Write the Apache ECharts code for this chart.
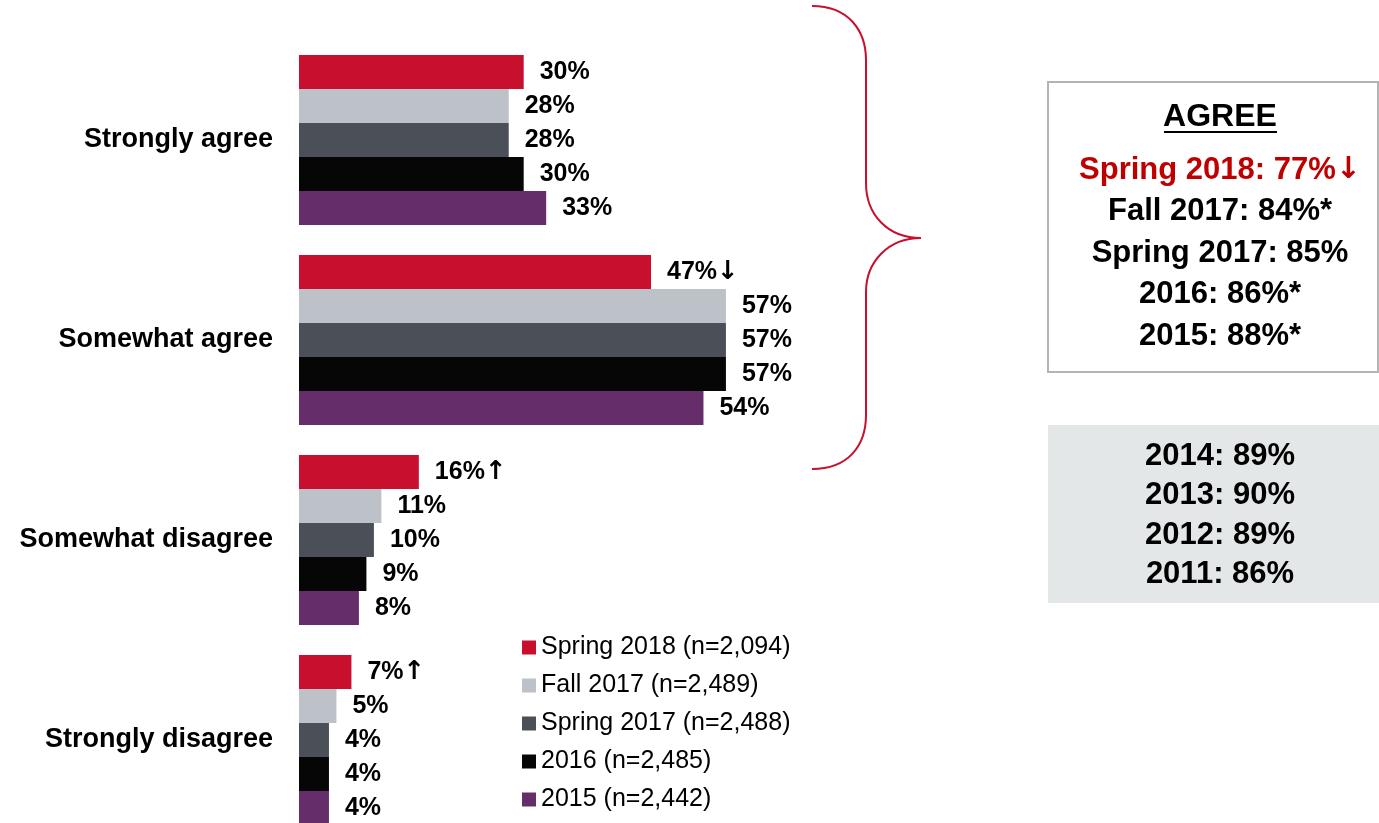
<!DOCTYPE html>
<html>
<head>
<meta charset="utf-8">
<script src="https://cdn.jsdelivr.net/npm/echarts@6/dist/echarts.min.js"></script>
<style>
  html, body { margin: 0; padding: 0; background: #fff; }
  #chart { width: 1379px; height: 823px; }
</style>
</head>
<body>
<div id="chart"></div>
<script>
// categories and series
var categories = ['Strongly agree', 'Somewhat agree', 'Somewhat disagree', 'Strongly disagree']
var seriesNames = ['Spring 2018 (n=2,094)', 'Fall 2017 (n=2,489)', 'Spring 2017 (n=2,488)', '2016 (n=2,485)', '2015 (n=2,442)']
var spring2018 = [30, 47, 16, 7]
var fall2017 = [28, 57, 11, 5]
var spring2017 = [28, 57, 10, 4]
var year2016 = [30, 57, 9, 4]
var year2015 = [33, 54, 8, 4]
// significance arrows on the Spring 2018 bars
var spring2018Marks = ['', '↓', '↑', '↑']
// summary boxes
var agreeTitle = 'AGREE'
var agreeLines = ['Spring 2018: 77%', 'Fall 2017: 84%*', 'Spring 2017: 85%', '2016: 86%*', '2015: 88%*']
var agreeMarks = ['↓', '', '', '', '']
var olderLines = ['2014: 89%', '2013: 90%', '2012: 89%', '2011: 86%']

var colors = ['#c8102e', '#bcc2c8', '#4b4f57', '#060606', '#662d6b']
var values = [spring2018, fall2017, spring2017, year2016, year2015]
var FONT = 'Liberation Sans, Arial, sans-serif'

var chart = echarts.init(document.getElementById('chart'))

var series = []
for (var i = 0; i < values.length; i++) {
  var marks = i === 0 ? spring2018Marks : null
  series.push({
    name: seriesNames[i],
    type: 'bar',
    data: values[i],
    barWidth: 34,
    barGap: '0%',
    itemStyle: { color: colors[i] },
    label: {
      show: true,
      position: 'right',
      distance: 16,
      fontFamily: FONT,
      fontWeight: 'bold',
      fontSize: 25,
      color: '#000',
      rich: {
        arr: { fontFamily: 'DejaVu Sans', fontSize: 26, fontWeight: 'bold', color: '#000' }
      },
      formatter: (function (m) {
        return function (p) {
          var a = m ? m[p.dataIndex] : ''
          return p.value + '%' + (a ? '{arr|' + a + '}' : '')
        }
      })(marks)
    }
  })
}

var braceStyle = { fill: null, stroke: '#c8102e', lineWidth: 2 }
var graphics = [
  // brace over the agree categories
  { type: 'bezierCurve', shape: { x1: 812, y1: 6, cpx1: 848, cpy1: 6, cpx2: 866, cpy2: 30, x2: 866, y2: 60 }, style: braceStyle },
  { type: 'line', shape: { x1: 866, y1: 60, x2: 866, y2: 183 }, style: braceStyle },
  { type: 'bezierCurve', shape: { x1: 866, y1: 183, cpx1: 866, cpy1: 215, cpx2: 888, cpy2: 238, x2: 921, y2: 238 }, style: braceStyle },
  { type: 'bezierCurve', shape: { x1: 921, y1: 238, cpx1: 888, cpy1: 238, cpx2: 866, cpy2: 262, x2: 866, y2: 292 }, style: braceStyle },
  { type: 'line', shape: { x1: 866, y1: 292, x2: 866, y2: 415 }, style: braceStyle },
  { type: 'bezierCurve', shape: { x1: 866, y1: 415, cpx1: 866, cpy1: 446, cpx2: 848, cpy2: 469, x2: 812, y2: 469 }, style: braceStyle },
  {
    type: 'rect',
    shape: { x: 1048, y: 82, width: 330, height: 290 },
    style: { fill: '#fff', stroke: '#b4b4b4', lineWidth: 2 }
  },
  {
    type: 'rect',
    shape: { x: 1048, y: 425, width: 335, height: 178 },
    style: { fill: '#e4e7e8' }
  },
  {
    type: 'text',
    x: 1220, y: 117,
    style: {
      text: agreeTitle, fill: '#000', align: 'center', verticalAlign: 'middle',
      font: 'bold 32px "Liberation Sans", Arial, sans-serif'
    }
  },
  {
    type: 'line',
    shape: { x1: 1164, y1: 132, x2: 1277, y2: 132 },
    style: { stroke: '#000', lineWidth: 2 }
  }
]
agreeLines.forEach(function (t, k) {
  var col = k === 0 ? '#c00000' : '#000'
  graphics.push({
    type: 'text',
    x: 1220, y: 170 + k * 41.5,
    style: {
      text: t + (agreeMarks[k] ? '{arr|' + agreeMarks[k] + '}' : ''),
      fill: col, align: 'center', verticalAlign: 'middle',
      font: 'bold 31px "Liberation Sans", Arial, sans-serif',
      rich: {
        arr: { fontFamily: 'DejaVu Sans', fontSize: 30, fontWeight: 'bold', fill: col }
      }
    }
  })
})
olderLines.forEach(function (t, k) {
  graphics.push({
    type: 'text',
    x: 1220, y: 456 + k * 39.5,
    style: {
      text: t, fill: '#000', align: 'center', verticalAlign: 'middle',
      font: 'bold 31px "Liberation Sans", Arial, sans-serif'
    }
  })
})

var option = {
  animation: false,
  textStyle: { fontFamily: FONT },
  grid: {
    left: 299,
    top: 40,
    width: 749,
    height: 800,
    containLabel: false,
    outerBoundsMode: 'none'
  },
  legend: {
    orient: 'vertical',
    left: 522,
    top: 635,
    padding: 0,
    icon: 'rect',
    itemWidth: 14,
    itemHeight: 14,
    itemGap: 13,
    selectedMode: false,
    textStyle: { fontSize: 25, color: '#000', lineHeight: 24, fontFamily: FONT },
    data: seriesNames
  },
  xAxis: {
    type: 'value',
    min: 0,
    max: 100,
    axisLine: { show: false },
    axisTick: { show: false },
    axisLabel: { show: false },
    splitLine: { show: false }
  },
  yAxis: {
    type: 'category',
    inverse: true,
    data: categories,
    axisLine: { show: false },
    axisTick: { show: false },
    axisLabel: {
      margin: 26,
      fontSize: 27,
      fontWeight: 'bold',
      color: '#000',
      fontFamily: FONT
    }
  },
  series: series,
  graphic: graphics
}

chart.setOption(option)
</script>
</body>
</html>
